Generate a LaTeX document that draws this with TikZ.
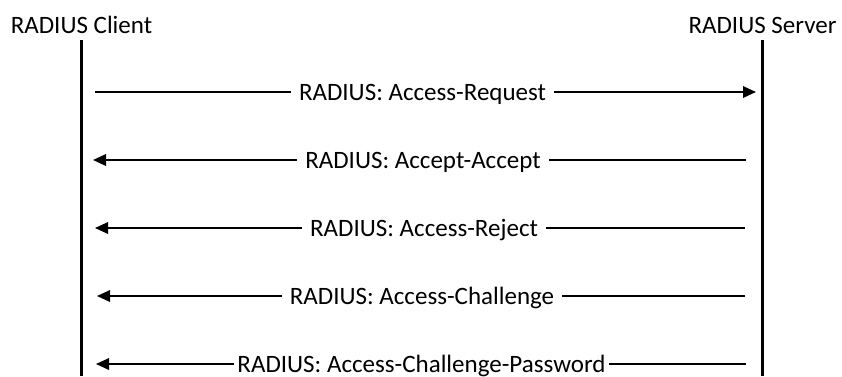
\documentclass[tikz,border=0pt]{standalone}
\usepackage{fontspec}
\setmainfont{Carlito}
\usetikzlibrary{arrows.meta}
\begin{document}
\begin{tikzpicture}[x=1pt,y=-1pt,
  lifeline/.style={line width=3pt},
  msg/.style={line width=1.8pt,-{Triangle[length=13pt,width=11.5pt]}},
  lbl/.style={fill=white,inner xsep=8pt,inner ysep=2pt,anchor=base,font=\fontsize{25}{30}\selectfont},
  head/.style={anchor=base,inner sep=0pt,font=\fontsize{25}{30}\selectfont}]
\useasboundingbox (0,0) rectangle (842,376);
% headers
\node[head] (client) at (81.5,33) {RADIUS Client};
\node[head] (server) at (762.5,33) {RADIUS Server};
% lifelines
\coordinate (ct) at (81,40);
\coordinate (cb) at (81,376);
\coordinate (st) at (762,40);
\coordinate (sb) at (762,376);
\draw[lifeline] (ct) -- (cb);
\draw[lifeline] (st) -- (sb);
% message ends
\coordinate (l1) at (95,92);   \coordinate (r1) at (756,92);
\coordinate (l2) at (93,160);  \coordinate (r2) at (746,160);
\coordinate (l3) at (95,228);  \coordinate (r3) at (745,228);
\coordinate (l4) at (97,296);  \coordinate (r4) at (745,296);
\coordinate (l5) at (96,364);  \coordinate (r5) at (746,364);
% messages
\draw[msg] (l1) -- (r1);
\node[lbl] (m1) at (422.5,100.3) {RADIUS: Access-Request};
\draw[msg] (r2) -- (l2);
\node[lbl] (m2) at (423,168.3) {RADIUS: Accept-Accept};
\draw[msg] (r3) -- (l3);
\node[lbl] (m3) at (424,236.3) {RADIUS: Access-Reject};
\draw[msg] (r4) -- (l4);
\node[lbl] (m4) at (422,304.3) {RADIUS: Access-Challenge};
\draw[msg] (r5) -- (l5);
\node[lbl,inner xsep=3pt] (m5) at (421.5,372.3) {RADIUS: Access-Challenge-Password};
\end{tikzpicture}
\end{document}
